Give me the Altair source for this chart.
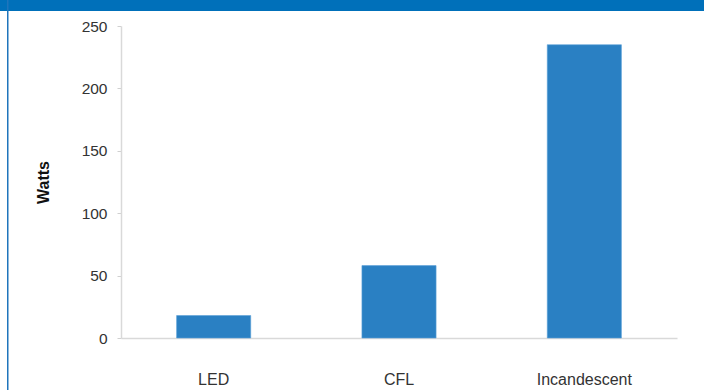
import altair as alt
import pandas as pd

categories = ["LED", "CFL", "Incandescent"]
watts = [18, 58, 235]
y_ticks = [0, 50, 100, 150, 200, 250]

df = pd.DataFrame({"Type": categories, "Watts": watts})
one = pd.DataFrame({"k": [0]})

FONT = "Liberation Sans"

bars = alt.Chart(df).mark_bar(color="#2A80C3", stroke="#5A9FD6", strokeWidth=0.6).encode(
    x=alt.X("Type:N", sort=categories,
            scale=alt.Scale(paddingInner=0.6, paddingOuter=0.3),
            axis=alt.Axis(title=None, labelAngle=0, labelPadding=33, ticks=False,
                          domainColor="#d9d9d9", domainWidth=1.5,
                          labelFont=FONT, labelFontSize=16, labelColor="#333333")),
    y=alt.Y("Watts:Q", scale=alt.Scale(domain=[0, 250], nice=False),
            axis=alt.Axis(title="Watts", values=y_ticks, grid=False,
                          domainColor="#d9d9d9", domainWidth=1.5,
                          tickColor="#d0d0d0", tickSize=4, labelPadding=10,
                          labelFont=FONT, labelFontSize=15.5, labelColor="#333333",
                          titleFont=FONT, titleFontSize=16, titleFontWeight="bold",
                          titleColor="#111111", titlePadding=30)),
)

band = alt.Chart(one).mark_rect(color="#0070BA", clip=False).encode(
    x=alt.value(-121), x2=alt.value(583), y=alt.value(-26), y2=alt.value(-15)
)
left_border = alt.Chart(one).mark_rect(color="#1F75BC", clip=False).encode(
    x=alt.value(-114), x2=alt.value(-112.5), y=alt.value(-26), y2=alt.value(364)
)

chart = alt.layer(bars, band, left_border).properties(
    width=556, height=312,
    autosize=alt.AutoSizeParams(type="none"),
    padding={"left": 121, "top": 26, "right": 27, "bottom": 52},
    background="white",
).configure_view(stroke=None)

chart.save("out.html", embed_options={"renderer": "svg", "actions": False})
